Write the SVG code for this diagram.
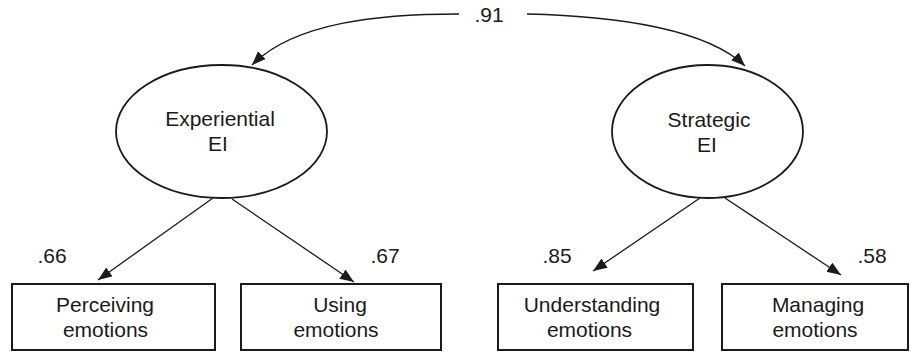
<svg xmlns="http://www.w3.org/2000/svg" width="911" height="352" viewBox="0 0 911 352">
<style>
  .lat { fill: #fff; stroke: #1a1a1a; stroke-width: 1.8; }
  .obs { fill: #fff; stroke: #1a1a1a; stroke-width: 2; }
  .t { font-family: "Liberation Sans", Arial, sans-serif; font-size: 21px; fill: #1a1a1a; text-anchor: middle; }
  .c { fill: none; stroke: #1a1a1a; stroke-width: 1.3; marker-end: url(#ah); }
</style>
<defs>
  <marker id="ah" markerUnits="userSpaceOnUse" markerWidth="15" markerHeight="12" refX="14" refY="5.5" orient="auto">
    <path d="M0,0 L14,5.5 L0,11 z" fill="#1a1a1a"/>
  </marker>
</defs>
<g id="connectors">
  <path class="c" d="M459,14 C380,14 295,22 252,65"/>
  <path class="c" d="M527,14 C620,16 708,30 745,66"/>
  <path class="c" d="M213,198 L98,280"/>
  <path class="c" d="M232,199 L354,282"/>
  <path class="c" d="M700,198 L593,271"/>
  <path class="c" d="M725,198 L841,275"/>
  <text class="t" x="489" y="22">.91</text>
  <text class="t" x="52" y="263">.66</text>
  <text class="t" x="385" y="263">.67</text>
  <text class="t" x="557" y="263">.85</text>
  <text class="t" x="872" y="263">.58</text>
</g>
<g id="experiential">
  <ellipse class="lat" cx="221.5" cy="131.5" rx="105.5" ry="66.5"/>
  <text class="t" x="220" y="126">Experiential</text>
  <text class="t" x="218" y="151">EI</text>
</g>
<g id="strategic">
  <ellipse class="lat" cx="707.5" cy="131.5" rx="95.5" ry="66.5"/>
  <text class="t" x="709" y="127">Strategic</text>
  <text class="t" x="707" y="152">EI</text>
</g>
<g id="perceiving">
  <rect class="obs" x="12" y="284" width="203" height="66"/>
  <text class="t" x="105" y="312">Perceiving</text>
  <text class="t" x="105.5" y="337">emotions</text>
</g>
<g id="using">
  <rect class="obs" x="241" y="284" width="200" height="66"/>
  <text class="t" x="340" y="312">Using</text>
  <text class="t" x="336" y="337">emotions</text>
</g>
<g id="understanding">
  <rect class="obs" x="498" y="284" width="195" height="66"/>
  <text class="t" x="592" y="312">Understanding</text>
  <text class="t" x="589.5" y="337">emotions</text>
</g>
<g id="managing">
  <rect class="obs" x="722" y="284" width="186" height="66"/>
  <text class="t" x="818" y="312">Managing</text>
  <text class="t" x="815" y="337">emotions</text>
</g>
</svg>
